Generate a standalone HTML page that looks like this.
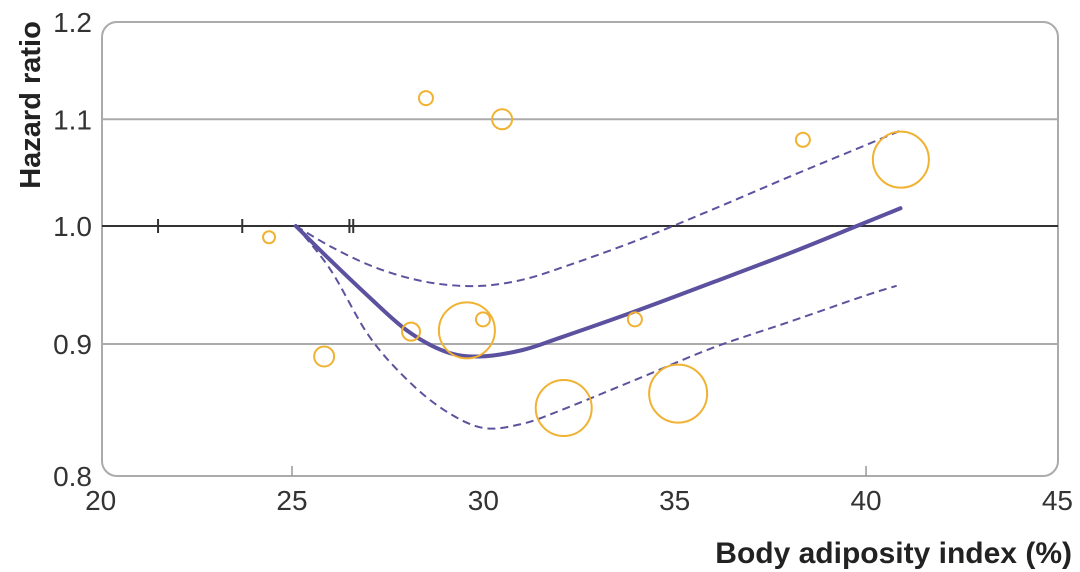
<!DOCTYPE html>
<html><head><meta charset="utf-8"><style>
html,body{margin:0;padding:0;background:#fff;}
svg{display:block;font-family:"Liberation Sans",sans-serif;}
</style></head><body>
<svg id="chart" width="1080" height="572" viewBox="0 0 1080 572">
<g id="grid"></g><g id="marks"></g><g id="labels"></g>
</svg>
<script>
const xTicks=[20,25,30,35,40,45];
const yTicks=[0.8,0.9,1.0,1.1,1.2];
const rugX=[21.5,23.7,26.5,26.6];
const ptX=[24.4,25.84,28.5,30.49,28.11,29.57,29.99,33.96,32.1,35.09,38.35,40.91];
const ptY=[0.990,0.890,1.121,1.100,0.910,0.911,0.920,0.920,0.850,0.861,1.080,1.061];
const ptR=[6,10,7,10,9,28,7,7,28,29,7,28];
const fitX=[25.1,26,27,28,29,29.9,31,32,34,36,38,39.76,40.9];
const fitY=[1.0,0.970,0.939,0.911,0.894,0.890,0.895,0.905,0.927,0.951,0.976,1.0,1.016];
const upX=[25.1,26,27,28,29,30,31,32,34,36,38,40,40.9];
const upY=[1.0,0.982,0.966,0.955,0.949,0.948,0.953,0.963,0.987,1.015,1.045,1.075,1.089];
const loX=[25.1,26,27,28,29,30,31,32,34,36,38,40,40.8];
const loY=[1.0,0.962,0.907,0.872,0.848,0.835,0.838,0.848,0.872,0.897,0.918,0.940,0.948];

const NS='http://www.w3.org/2000/svg';
const L=102,R=1058,T=22,B=476;
function xs(v){return 292+(v-25)*38.27;}
function ys(v){return 226-1120*Math.log(v);}
function mk(tag,attrs,parent,text){const e=document.createElementNS(NS,tag);for(const k in attrs)e.setAttribute(k,attrs[k]);if(text!==undefined)e.textContent=text;document.getElementById(parent).appendChild(e);return e;}
function smooth(xa,ya){const p=xa.map((x,i)=>[xs(x),ys(ya[i])]);let d='M'+p[0][0]+','+p[0][1];
for(let i=0;i<p.length-1;i++){const p0=p[Math.max(0,i-1)],p1=p[i],p2=p[i+1],p3=p[Math.min(p.length-1,i+2)];
const c1=[p1[0]+(p2[0]-p0[0])/6,p1[1]+(p2[1]-p0[1])/6],c2=[p2[0]-(p3[0]-p1[0])/6,p2[1]-(p3[1]-p1[1])/6];
d+=' C'+c1[0]+','+c1[1]+' '+c2[0]+','+c2[1]+' '+p2[0]+','+p2[1];}return d;}

let e=mk('rect',{x:L,y:T,width:R-L,height:B-T,rx:15,fill:'none',stroke:'#ababab','stroke-width':2},'grid');


yTicks.forEach(v=>{
  if(v!==0.8&&v!==1.2){
    const g=mk('line',{x1:L,x2:R,y1:ys(v),y2:ys(v),stroke:v===1.0?'#333':'#ababab','stroke-width':2},'grid');
    
    
  }
  const t=mk('text',{x:92,y:ys(v)+10,'text-anchor':'end','font-size':28,fill:'#333'},'labels',v.toFixed(1));
  
  
});
xTicks.forEach(v=>{
  const t=mk('text',{x:xs(v),y:510,'text-anchor':'middle','font-size':28,fill:'#333'},'labels',String(v));
  
  
  if(v===25||v===40){
    const k=mk('line',{x1:xs(v),x2:xs(v),y1:B-10,y2:B,stroke:'#999','stroke-width':1.5},'grid');
    
    
  }
});
rugX.forEach(v=>{
  const r=mk('line',{x1:xs(v),x2:xs(v),y1:219,y2:233,stroke:'#333','stroke-width':2},'grid');
  
  
});
[[upX,upY,'upper-ci'],[loX,loY,'lower-ci']].forEach(([a,b,n])=>{
  const p=mk('path',{d:smooth(a,b),fill:'none',stroke:'#5b539e','stroke-width':2,'stroke-dasharray':'8 5'},'marks');
  
  
});
const f=mk('path',{d:smooth(fitX,fitY),fill:'none',stroke:'#5b519f','stroke-width':4,'stroke-linecap':'round'},'marks');


ptX.forEach((x,i)=>{
  const c=mk('circle',{cx:xs(x),cy:ys(ptY[i]),r:ptR[i],fill:'none',stroke:'#f0b232','stroke-width':2},'marks');
  
  
});
let yt=mk('text',{x:0,y:0,transform:'translate(40,105) rotate(-90)','text-anchor':'middle','font-size':29,'font-weight':'bold',fill:'#222'},'labels','Hazard ratio');


let xt=mk('text',{x:1072,y:563,'text-anchor':'end','font-size':30,'font-weight':'bold',fill:'#222'},'labels','Body adiposity index (%)');


</script>
</body></html>
